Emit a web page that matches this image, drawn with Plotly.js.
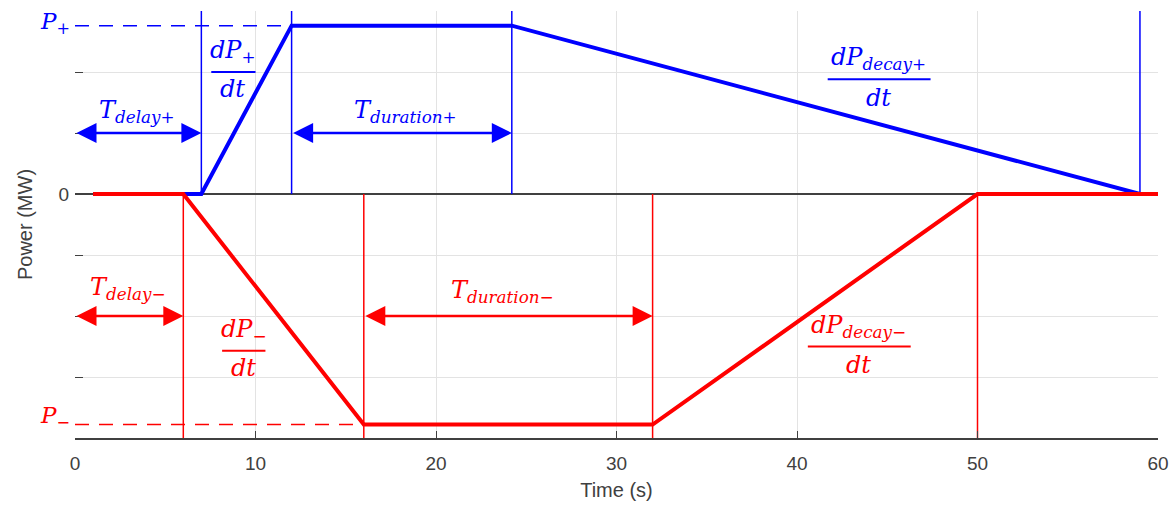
<!DOCTYPE html>
<html>
<head>
<meta charset="utf-8">
<script src="https://cdn.plot.ly/plotly-3.0.1.min.js"></script>
<style>html,body{margin:0;padding:0;background:#fff;}#chart{width:1171px;height:508px;}</style>
</head>
<body>
<div id="chart"></div>
<script>
// ---- data ----
const posTime = [1, 7, 12, 24.2, 59, 60];
const posPower = [0, 0, 2.76, 2.76, 0, 0];
const negTime = [1, 6, 16, 32, 50, 60];
const negPower = [0, 0, -3.78, -3.78, 0, 0];
const posMarkers = [7, 12, 24.2, 59];     // blue vertical guides
const negMarkers = [6, 16, 32, 50];       // red vertical guides
const pPlus = 2.76, pMinus = -3.78;
const yMin = -4, yMax = 3;
const xTicks = [0, 10, 20, 30, 40, 50, 60];
const yTicks = [-4, -3, -2, -1, 0, 1, 2, 3];
const yTickText = ['', '', '', '', '0', '', '', ''];

const BLUE = '#0000ff', RED = '#ff0000';
const traces = [];
posMarkers.forEach(t => traces.push({x: [t, t], y: [0, yMax], mode: 'lines', line: {color: BLUE, width: 1.5}, hoverinfo: 'skip'}));
traces.push({x: [0, 12], y: [pPlus, pPlus], mode: 'lines', line: {color: BLUE, width: 1.5, dash: '14px,10px'}, hoverinfo: 'skip'});
negMarkers.forEach(t => traces.push({x: [t, t], y: [0, yMin], mode: 'lines', line: {color: RED, width: 1.5}, hoverinfo: 'skip'}));
traces.push({x: [0, 16], y: [pMinus, pMinus], mode: 'lines', line: {color: RED, width: 1.5, dash: '14px,10px'}, hoverinfo: 'skip'});
traces.push({x: posTime, y: posPower, mode: 'lines', line: {color: BLUE, width: 4}});
traces.push({x: negTime, y: negPower, mode: 'lines', line: {color: RED, width: 4}});

const mathFont = (c, s) => ({family: 'DejaVu Serif', size: s || 24, color: c});
function label(x, y, text, color, size) {
  return {x: x, y: y, xref: 'x', yref: 'y', text: '<i>' + text + '</i>', showarrow: false,
          font: mathFont(color, size), xanchor: 'center', yanchor: 'middle'};
}
function dbl(x0, x1, y, color) {
  return {x: x1, y: y, ax: x0, ay: y, xref: 'x', yref: 'y', axref: 'x', ayref: 'y', text: '',
          showarrow: true, arrowside: 'end+start', arrowhead: 2, arrowsize: 1.6, arrowwidth: 2.5,
          arrowcolor: color, standoff: 0, startstandoff: 0};
}
const annotations = [
  {x: -0.003, y: pPlus + 0.05, xref: 'paper', yref: 'y', text: '<i>P<sub>+</sub></i>', showarrow: false, font: mathFont(BLUE, 23), xanchor: 'right', yanchor: 'middle'},
  label(8.75, 2.33, 'dP<sub>+</sub>', BLUE),
  label(8.75, 1.72, 'dt', BLUE),
  label(3.45, 1.35, 'T<sub>delay+</sub>', BLUE),
  dbl(0, 7, 1, BLUE),
  label(18.3, 1.35, 'T<sub>duration+</sub>', BLUE),
  dbl(12, 24.2, 1, BLUE),
  label(44.5, 2.22, 'dP<sub>decay+</sub>', BLUE),
  label(44.5, 1.57, 'dt', BLUE),
  {x: -0.003, y: pMinus + 0.12, xref: 'paper', yref: 'y', text: '<i>P<sub>−</sub></i>', showarrow: false, font: mathFont(RED, 23), xanchor: 'right', yanchor: 'middle'},
  label(2.95, -1.55, 'T<sub>delay−</sub>', RED),
  dbl(0, 6, -2, RED),
  label(9.35, -2.24, 'dP<sub>−</sub>', RED),
  label(9.35, -2.85, 'dt', RED),
  label(23.7, -1.6, 'T<sub>duration−</sub>', RED),
  dbl(16, 32, -2, RED),
  label(43.4, -2.17, 'dP<sub>decay−</sub>', RED),
  label(43.4, -2.8, 'dt', RED)
];
const shapes = [
  {type: 'line', xref: 'x', yref: 'y', x0: 7.55, x1: 10.0, y0: 2.0, y1: 2.0, line: {color: BLUE, width: 2}},
  {type: 'line', xref: 'x', yref: 'y', x0: 41.7, x1: 47.4, y0: 1.88, y1: 1.88, line: {color: BLUE, width: 2}},
  {type: 'line', xref: 'x', yref: 'y', x0: 8.15, x1: 10.55, y0: -2.57, y1: -2.57, line: {color: RED, width: 2}},
  {type: 'line', xref: 'x', yref: 'y', x0: 40.6, x1: 46.3, y0: -2.5, y1: -2.5, line: {color: RED, width: 2}}
];

const layout = {
  width: 1171, height: 508,
  margin: {l: 75, r: 13, t: 11, b: 70},
  paper_bgcolor: '#fff', plot_bgcolor: '#fff',
  showlegend: false,
  font: {family: 'Liberation Sans, Arial, sans-serif', color: '#404040', size: 19},
  xaxis: {range: [0, 60], tickvals: xTicks, ticks: 'inside', ticklen: 7, tickcolor: '#404040',
          showline: true, linecolor: '#404040', linewidth: 1.5, showgrid: true, gridcolor: '#e3e3e3',
          zeroline: false, ticklabelstandoff: 8,
          title: {text: 'Time (s)', font: {size: 20, color: '#404040'}, standoff: 9},
          tickfont: {size: 19, color: '#404040'}},
  yaxis: {range: [yMin, yMax], tickvals: yTicks, ticktext: yTickText, ticks: 'inside', ticklen: 8,
          tickcolor: '#404040', showline: false, showgrid: true, gridcolor: '#e3e3e3',
          zeroline: true, zerolinecolor: '#404040', zerolinewidth: 1.5, ticklabelstandoff: 5,
          title: {text: 'Power (MW)', font: {size: 20, color: '#404040'}, standoff: 20},
          tickfont: {size: 19, color: '#404040'}},
  annotations: annotations,
  shapes: shapes
};
Plotly.newPlot('chart', traces, layout, {displayModeBar: false, staticPlot: true});
</script>
</body>
</html>
